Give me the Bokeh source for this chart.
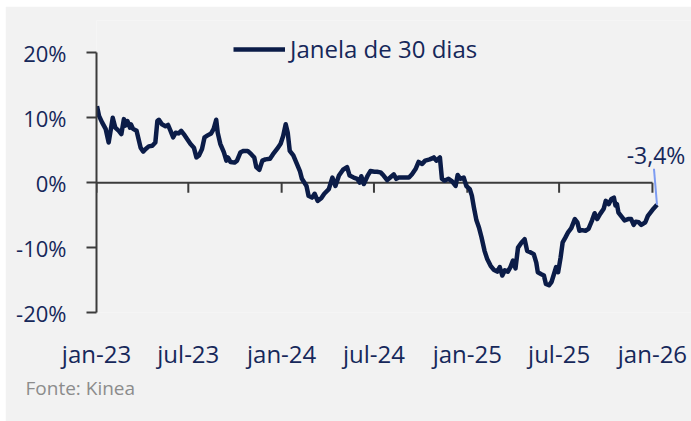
import pandas as pd
from bokeh.plotting import figure
from bokeh.models import (Range1d, FixedTicker, CustomJSTickFormatter, NumeralTickFormatter,
                          Legend, LegendItem, Label, Spacer, Title)
from bokeh.layouts import column, row
from bokeh.embed import file_html
from bokeh.resources import INLINE

# ---- data ----
start_date = "2023-01-01"
day_offsets = [1, 5, 11, 18, 24, 32, 37, 44, 49, 54, 57, 61, 66, 68, 72, 79, 83, 87, 92, 97,
               103, 110, 116, 120, 123, 129, 136, 141, 146, 151, 156, 162, 167, 172, 179, 185,
               192, 197, 202, 208, 213, 219, 226, 231, 236, 239, 244, 251, 256, 259, 264, 272,
               277, 284, 290, 298, 305, 311, 315, 321, 327, 333, 342, 348, 356, 363, 368, 373,
               377, 381, 388, 394, 401, 405, 410, 414, 418, 425, 430, 436, 443, 449, 458, 465,
               471, 478, 486, 494, 499, 507, 514, 519, 522, 527, 534, 540, 548,
               553, 560, 566, 573, 579, 586, 591, 596, 606, 616, 622, 629, 635, 642, 648, 657,
               665, 670, 677, 681, 686, 694, 701, 708, 712, 717, 724, 729, 736, 740, 744, 749,
               754, 759, 765, 770, 777, 783, 790, 795, 800, 805, 811, 816, 821, 826, 831, 838,
               844, 849, 855, 862, 867, 870, 877, 882, 886, 892, 897, 901, 906, 910, 915, 919,
               924, 930, 936, 943, 948, 952, 957, 964, 970, 977, 982, 987, 993, 1000, 1004,
               1010, 1015, 1020, 1023, 1026, 1029, 1036, 1041, 1048, 1054, 1059, 1063, 1069,
               1074, 1082, 1087, 1092, 1098, 1105]
returns_pct = [11.8, 10.3, 9.3, 8.3, 6.2, 10.0, 8.5, 8.0, 7.5, 9.8, 8.8, 9.5, 8.5, 9.0, 8.3, 8.0,
               6.7, 5.4, 4.8, 5.2, 5.6, 5.7, 6.2, 9.5, 9.7, 9.0, 8.7, 8.9, 8.0, 7.0, 7.7, 7.6,
               8.0, 7.5, 6.7, 6.0, 5.4, 3.9, 4.2, 5.2, 7.0, 7.3, 7.6, 8.3, 9.7, 7.7, 6.0, 4.7,
               3.4, 3.9, 3.2, 3.1,
               3.4, 4.7, 4.9, 4.9, 4.4, 3.9, 2.4, 2.0, 3.4, 3.6, 3.7, 4.4, 5.2, 6.0, 7.2, 9.0,
               7.7, 4.9, 4.2, 3.1, 1.8, 0.6, 0.0, -0.5, -2.0, -2.3, -1.7, -2.8, -2.4, -1.7,
               -1.0, 0.8, -0.5, 1.1, 2.0, 2.4, 1.1, 0.8, 0.6, 0.0, 1.0, -0.2, 1.0, 1.8, 1.7,
               1.7, 1.6, 1.1, 0.4, 0.8, 1.3, 0.6, 0.8, 0.8, 0.8, 1.3, 2.1, 3.2, 2.9, 3.4, 3.6,
               3.9, 3.4, 3.9, 0.6, 0.3, 0.6, 0.2, -0.5, 1.2, 0.6, 0.8, -0.5, -1.0, -2.0, -3.8,
               -5.8, -6.9, -8.4, -10.5, -11.7, -12.8, -13.4, -13.7, -13.0, -14.3, -13.5, -13.7,
               -13.0, -12.0, -13.2, -10.0, -9.2, -8.7, -10.5, -10.7, -11.0, -12.3, -13.8, -14.1,
               -14.3, -15.6, -15.8, -15.3, -14.3, -13.0, -13.8, -11.5, -9.2, -8.5, -7.6, -7.0,
               -5.6, -6.1, -7.4, -7.3, -7.4, -7.1, -5.8, -4.7, -5.6, -4.8, -4.0, -2.8, -3.3,
               -2.5, -2.3, -3.5, -3.3, -4.6, -5.3, -5.8, -5.6, -5.6, -6.5, -6.0, -6.1, -6.5,
               -6.1, -5.1, -4.6, -4.0, -3.4]
series_name = "Janela de 30 dias"
tick_dates = ["2023-01-01", "2023-07-01", "2024-01-01", "2024-07-01", "2025-01-01",
              "2025-07-01", "2026-01-01"]
tick_labels = ["jan-23", "jul-23", "jan-24", "jul-24", "jan-25", "jul-25", "jan-26"]
y_ticks = [-0.2, -0.1, 0.0, 0.1, 0.2]
source_text = "Fonte: Kinea"

# ---- styles ----
FONT = "Open Sans"
NAVY = "#0b1c48"
TEXT = "#16285a"
AXIS = "#3c3c3c"
BG = "#f2f2f2"


def ms(d):
    return pd.Timestamp(d).value / 1e6


dates = pd.Timestamp(start_date) + pd.to_timedelta(day_offsets, unit="D")
vals = [v / 100 for v in returns_pct]
tick_ms = [ms(d) for d in tick_dates]

FRAME_H = 292
Y0, Y1 = -0.2, 0.25
px_per_unit = FRAME_H / (Y1 - Y0)

p = figure(width=686, height=415, output_backend="svg", toolbar_location=None,
           x_axis_type="datetime",
           x_range=Range1d(ms("2023-01-01"), ms("2026-03-19")),
           y_range=Range1d(Y0, Y1),
           min_border_left=91, min_border_right=0, min_border_top=14, min_border_bottom=109)
p.background_fill_color = BG
p.border_fill_color = BG
p.outline_line_color = None
p.grid.visible = False

# y axis
ya = p.yaxis[0]
ya.bounds = (y_ticks[0], y_ticks[-1])
ya.ticker = FixedTicker(ticks=y_ticks)
ya.formatter = NumeralTickFormatter(format="0%")
ya.axis_line_color = AXIS
ya.axis_line_width = 2
ya.major_tick_line_color = AXIS
ya.major_tick_line_width = 2
ya.major_tick_out = 10
ya.major_tick_in = 0
ya.minor_tick_line_color = None
ya.major_label_text_font = FONT
ya.major_label_text_font_size = "22px"
ya.major_label_text_color = TEXT
ya.major_label_standoff = 20

# x axis (labels only, placed below)
xa = p.xaxis[0]
xa.ticker = FixedTicker(ticks=tick_ms)
xa.formatter = CustomJSTickFormatter(args=dict(tvals=tick_ms, tlabs=tick_labels), code="""
    for (let i = 0; i < tvals.length; i++) { if (Math.abs(tvals[i] - tick) < 1) return tlabs[i]; }
    return '';
""")
xa.axis_line_color = None
xa.major_tick_line_color = None
xa.minor_tick_line_color = None
xa.major_label_text_font = FONT
xa.major_label_text_font_size = "24px"
xa.major_label_text_color = TEXT
xa.major_label_standoff = 18

# zero line with ticks
p.segment(x0=[tick_ms[0]], y0=[0], x1=[tick_ms[-1]], y1=[0], line_color=AXIS, line_width=2)
tick_len = 10 / px_per_unit
p.segment(x0=tick_ms, y0=[0] * len(tick_ms), x1=tick_ms, y1=[-tick_len] * len(tick_ms),
          line_color=AXIS, line_width=2)

# series
r = p.line(dates, vals, line_color=NAVY, line_width=4.5, line_join="round")

# last value annotation
last_x = ms(dates[-1])
last_y = vals[-1]
p.segment(x0=[last_x - 6 * 86400000], y0=[last_y + 36 / px_per_unit], x1=[last_x], y1=[last_y],
          line_color="#7d9cf2", line_width=2)
p.add_layout(Label(x=last_x - 2 * 86400000, y=last_y, x_units="data", y_units="data",
                   text=f"{returns_pct[-1]:.1f}%".replace(".", ","),
                   text_font=FONT, text_font_size="23px", text_color=TEXT,
                   text_align="center", text_baseline="alphabetic", y_offset=50))

legend = Legend(items=[LegendItem(label=series_name, renderers=[r])], location=(137, 247),
                label_text_font=FONT, label_text_font_size="24px", label_text_color=TEXT,
                glyph_width=52, glyph_height=20, label_standoff=5, padding=0, margin=0,
                spacing=0, background_fill_alpha=0, border_line_alpha=0)
p.add_layout(legend, "center")

p.add_layout(Title(text=source_text, align="left", offset=-71, standoff=0,
                   text_font=FONT, text_font_size="19px", text_font_style="normal",
                   text_color="#8c8c8c"), "below")

layout = column(Spacer(height=6), row(Spacer(width=5), p, spacing=0), spacing=0)
open("out.html", "w").write(file_html(layout, INLINE))
